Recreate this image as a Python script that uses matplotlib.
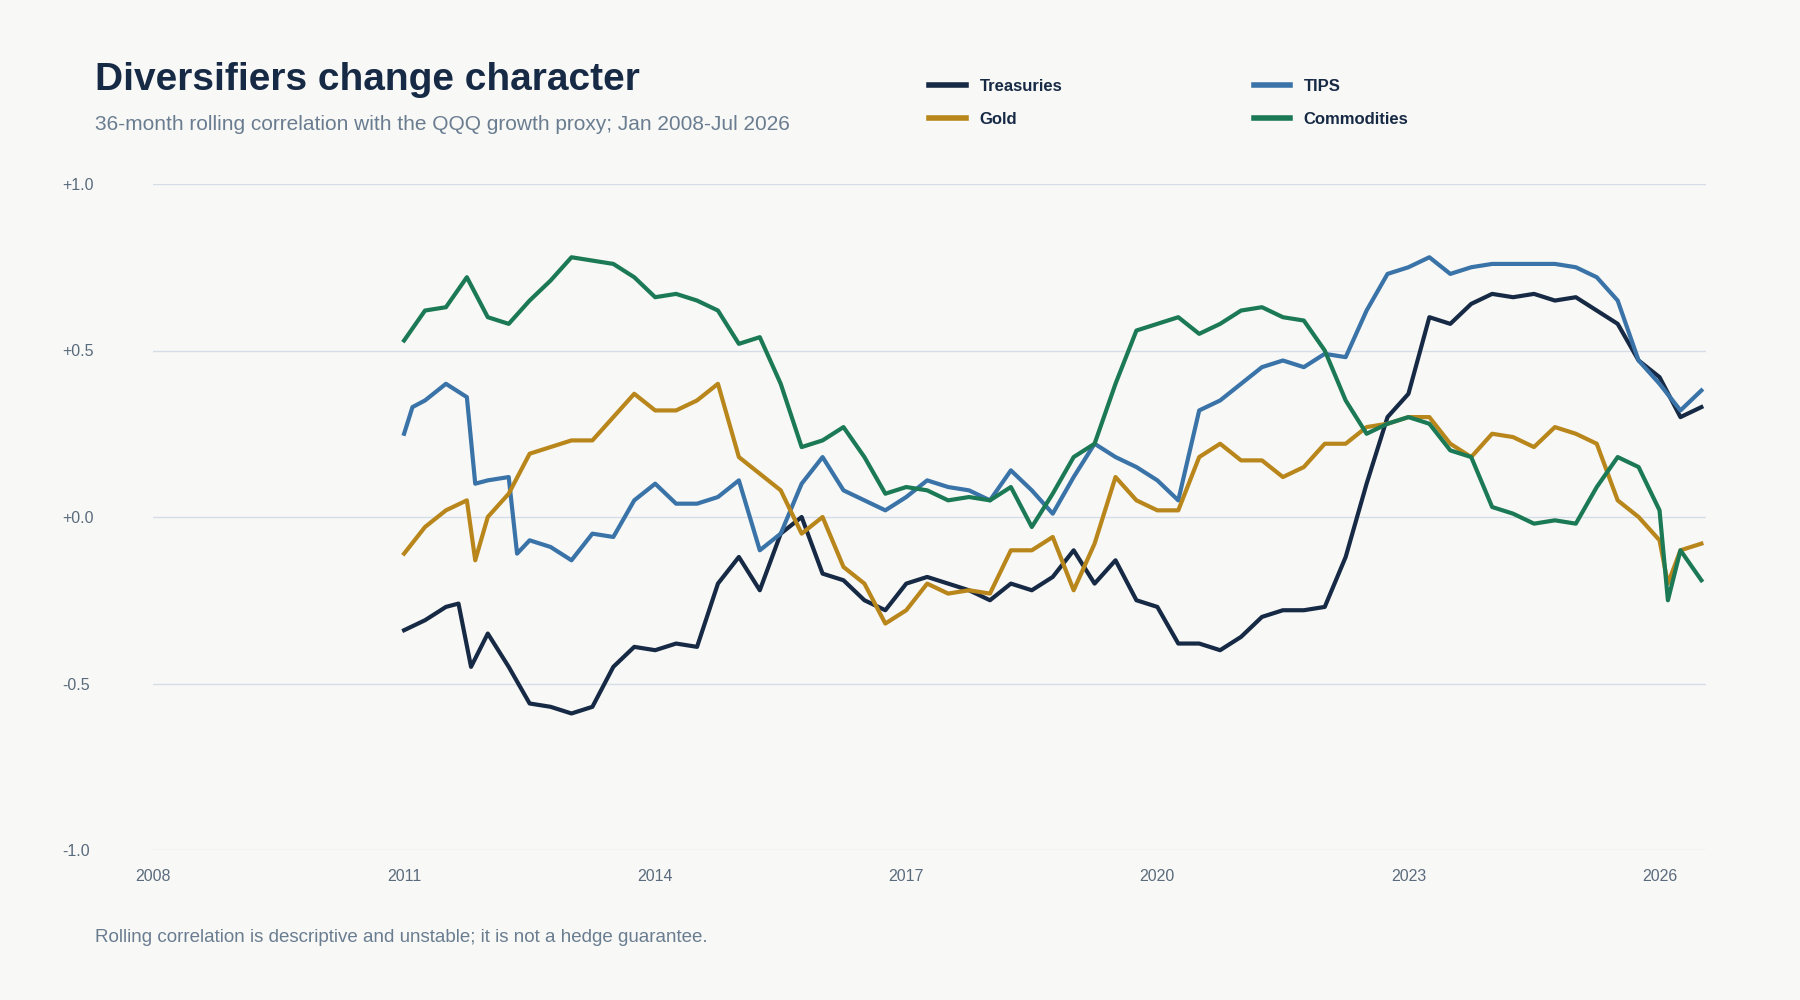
import matplotlib.pyplot as plt
from matplotlib.lines import Line2D

plt.rcParams['font.family'] = ['Liberation Sans', 'DejaVu Sans']

# decimal years, values
treas_x = [2011.0, 2011.25, 2011.5, 2011.65, 2011.8, 2012.0, 2012.25, 2012.5, 2012.75, 2013.0, 2013.25, 2013.5, 2013.75,
           2014.0, 2014.25, 2014.5, 2014.75, 2015.0, 2015.25, 2015.5, 2015.75, 2016.0, 2016.25, 2016.5, 2016.75,
           2017.0, 2017.25, 2017.5, 2017.75, 2018.0, 2018.25, 2018.5, 2018.75, 2019.0, 2019.25, 2019.5, 2019.75,
           2020.0, 2020.25, 2020.5, 2020.75, 2021.0, 2021.25, 2021.5, 2021.75, 2022.0, 2022.25, 2022.5, 2022.75,
           2023.0, 2023.25, 2023.5, 2023.75, 2024.0, 2024.25, 2024.5, 2024.75, 2025.0, 2025.25, 2025.5, 2025.75,
           2026.0, 2026.25, 2026.5]
treas = [-0.34, -0.31, -0.27, -0.26, -0.45, -0.35, -0.45, -0.56, -0.57, -0.59, -0.57, -0.45, -0.39,
         -0.40, -0.38, -0.39, -0.20, -0.12, -0.22, -0.05, 0.0, -0.17, -0.19, -0.25, -0.28,
         -0.20, -0.18, -0.20, -0.22, -0.25, -0.20, -0.22, -0.18, -0.10, -0.20, -0.13, -0.25,
         -0.27, -0.38, -0.38, -0.40, -0.36, -0.30, -0.28, -0.28, -0.27, -0.12, 0.10, 0.30,
         0.37, 0.60, 0.58, 0.64, 0.67, 0.66, 0.67, 0.65, 0.66, 0.62, 0.58, 0.47,
         0.42, 0.30, 0.33]

tips_x = [2011.0, 2011.1, 2011.25, 2011.5, 2011.75, 2011.85, 2012.0, 2012.25, 2012.35, 2012.5, 2012.75, 2013.0,
          2013.25, 2013.5, 2013.75, 2014.0, 2014.25, 2014.5, 2014.75, 2015.0, 2015.25, 2015.5, 2015.75,
          2016.0, 2016.25, 2016.5, 2016.75, 2017.0, 2017.25, 2017.5, 2017.75, 2018.0, 2018.25, 2018.5, 2018.75,
          2019.0, 2019.25, 2019.5, 2019.75, 2020.0, 2020.25, 2020.5, 2020.75, 2021.0, 2021.25, 2021.5, 2021.75,
          2022.0, 2022.25, 2022.5, 2022.75, 2023.0, 2023.25, 2023.5, 2023.75, 2024.0, 2024.25, 2024.5, 2024.75,
          2025.0, 2025.25, 2025.5, 2025.75, 2026.0, 2026.25, 2026.5]
tips = [0.25, 0.33, 0.35, 0.40, 0.36, 0.10, 0.11, 0.12, -0.11, -0.07, -0.09, -0.13,
        -0.05, -0.06, 0.05, 0.10, 0.04, 0.04, 0.06, 0.11, -0.10, -0.05, 0.10,
        0.18, 0.08, 0.05, 0.02, 0.06, 0.11, 0.09, 0.08, 0.05, 0.14, 0.08, 0.01,
        0.12, 0.22, 0.18, 0.15, 0.11, 0.05, 0.32, 0.35, 0.40, 0.45, 0.47, 0.45,
        0.49, 0.48, 0.62, 0.73, 0.75, 0.78, 0.73, 0.75, 0.76, 0.76, 0.76, 0.76,
        0.75, 0.72, 0.65, 0.47, 0.40, 0.32, 0.38]

gold_x = [2011.0, 2011.25, 2011.5, 2011.75, 2011.85, 2012.0, 2012.25, 2012.5, 2012.75, 2013.0, 2013.25, 2013.5,
          2013.75, 2014.0, 2014.25, 2014.5, 2014.75, 2015.0, 2015.25, 2015.5, 2015.75, 2016.0, 2016.25, 2016.5,
          2016.75, 2017.0, 2017.25, 2017.5, 2017.75, 2018.0, 2018.25, 2018.5, 2018.75, 2019.0, 2019.25, 2019.5,
          2019.75, 2020.0, 2020.25, 2020.5, 2020.75, 2021.0, 2021.25, 2021.5, 2021.75, 2022.0, 2022.25, 2022.5,
          2022.75, 2023.0, 2023.25, 2023.5, 2023.75, 2024.0, 2024.25, 2024.5, 2024.75, 2025.0, 2025.25, 2025.5,
          2025.75, 2026.0, 2026.1, 2026.25, 2026.5]
gold = [-0.11, -0.03, 0.02, 0.05, -0.13, 0.0, 0.07, 0.19, 0.21, 0.23, 0.23, 0.30,
        0.37, 0.32, 0.32, 0.35, 0.40, 0.18, 0.13, 0.08, -0.05, 0.0, -0.15, -0.20,
        -0.32, -0.28, -0.20, -0.23, -0.22, -0.23, -0.10, -0.10, -0.06, -0.22, -0.08, 0.12,
        0.05, 0.02, 0.02, 0.18, 0.22, 0.17, 0.17, 0.12, 0.15, 0.22, 0.22, 0.27,
        0.28, 0.30, 0.30, 0.22, 0.18, 0.25, 0.24, 0.21, 0.27, 0.25, 0.22, 0.05,
        0.0, -0.07, -0.20, -0.10, -0.08]

comm_x = [2011.0, 2011.25, 2011.5, 2011.75, 2012.0, 2012.25, 2012.5, 2012.75, 2013.0, 2013.25, 2013.5, 2013.75,
          2014.0, 2014.25, 2014.5, 2014.75, 2015.0, 2015.25, 2015.5, 2015.75, 2016.0, 2016.25, 2016.5, 2016.75,
          2017.0, 2017.25, 2017.5, 2017.75, 2018.0, 2018.25, 2018.5, 2018.75, 2019.0, 2019.25, 2019.5, 2019.75,
          2020.0, 2020.25, 2020.5, 2020.75, 2021.0, 2021.25, 2021.5, 2021.75, 2022.0, 2022.25, 2022.5, 2022.75,
          2023.0, 2023.25, 2023.5, 2023.75, 2024.0, 2024.25, 2024.5, 2024.75, 2025.0, 2025.25, 2025.5, 2025.75,
          2026.0, 2026.1, 2026.25, 2026.5]
comm = [0.53, 0.62, 0.63, 0.72, 0.60, 0.58, 0.65, 0.71, 0.78, 0.77, 0.76, 0.72,
        0.66, 0.67, 0.65, 0.62, 0.52, 0.54, 0.40, 0.21, 0.23, 0.27, 0.18, 0.07,
        0.09, 0.08, 0.05, 0.06, 0.05, 0.09, -0.03, 0.07, 0.18, 0.22, 0.40, 0.56,
        0.58, 0.60, 0.55, 0.58, 0.62, 0.63, 0.60, 0.59, 0.50, 0.35, 0.25, 0.28,
        0.30, 0.28, 0.20, 0.18, 0.03, 0.01, -0.02, -0.01, -0.02, 0.09, 0.18, 0.15,
        0.02, -0.25, -0.10, -0.19]

names = ["Treasuries", "TIPS", "Gold", "Commodities"]
colors = ["#172a45", "#3a73a8", "#b8861b", "#1b7a55"]

bg = "#f8f8f6"
fig = plt.figure(figsize=(18, 10), dpi=100, facecolor=bg)
ax = fig.add_axes([0.085, 0.150, 0.863, 0.666], facecolor=bg)

series = [(treas_x, treas), (tips_x, tips), (gold_x, gold), (comm_x, comm)]
for (x, y), c in zip(series, colors):
    ax.plot(x, y, color=c, lw=3.0, solid_joinstyle="round")

ax.set_xlim(2008, 2026.56)
ax.set_ylim(-1.0, 1.0)
ax.set_yticks([-1.0, -0.5, 0.0, 0.5, 1.0])
ax.set_yticklabels(["-1.0", "-0.5", "+0.0", "+0.5", "+1.0"], ha="left")
ax.set_xticks(list(range(2008, 2027, 3)))
ax.tick_params(axis="y", length=0, pad=65, labelsize=11.5, labelcolor="#5a6b7d")
ax.tick_params(axis="x", length=0, pad=14, labelsize=11.5, labelcolor="#5a6b7d")
ax.grid(axis="y", color="#d5dee7", lw=1)
for s in ax.spines.values():
    s.set_visible(False)

fig.text(0.053, 0.92, "Diversifiers change character", fontsize=28, fontweight="bold", color="#172a45", va="center")
fig.text(0.053, 0.875, "36-month rolling correlation with the QQQ growth proxy; Jan 2008-Jul 2026",
         fontsize=15, color="#6a7d90", va="center")
fig.text(0.053, 0.062, "Rolling correlation is descriptive and unstable; it is not a hedge guarantee.",
         fontsize=13.5, color="#6a7d90", va="center")

# column-major fill: order so rows read Treasuries/TIPS and Gold/Commodities
order = [0, 2, 1, 3]
handles = [Line2D([0], [0], color=colors[i], lw=4) for i in order]
leg = fig.legend(handles, [names[i] for i in order], loc="center left", bbox_to_anchor=(0.508, 0.897), ncol=2,
                 frameon=False, handlelength=2.2, columnspacing=11.5, labelspacing=1.1,
                 prop={"weight": "bold", "size": 12})
for t in leg.get_texts():
    t.set_color("#172a45")

fig.savefig("out.png", dpi=100, facecolor=bg)
